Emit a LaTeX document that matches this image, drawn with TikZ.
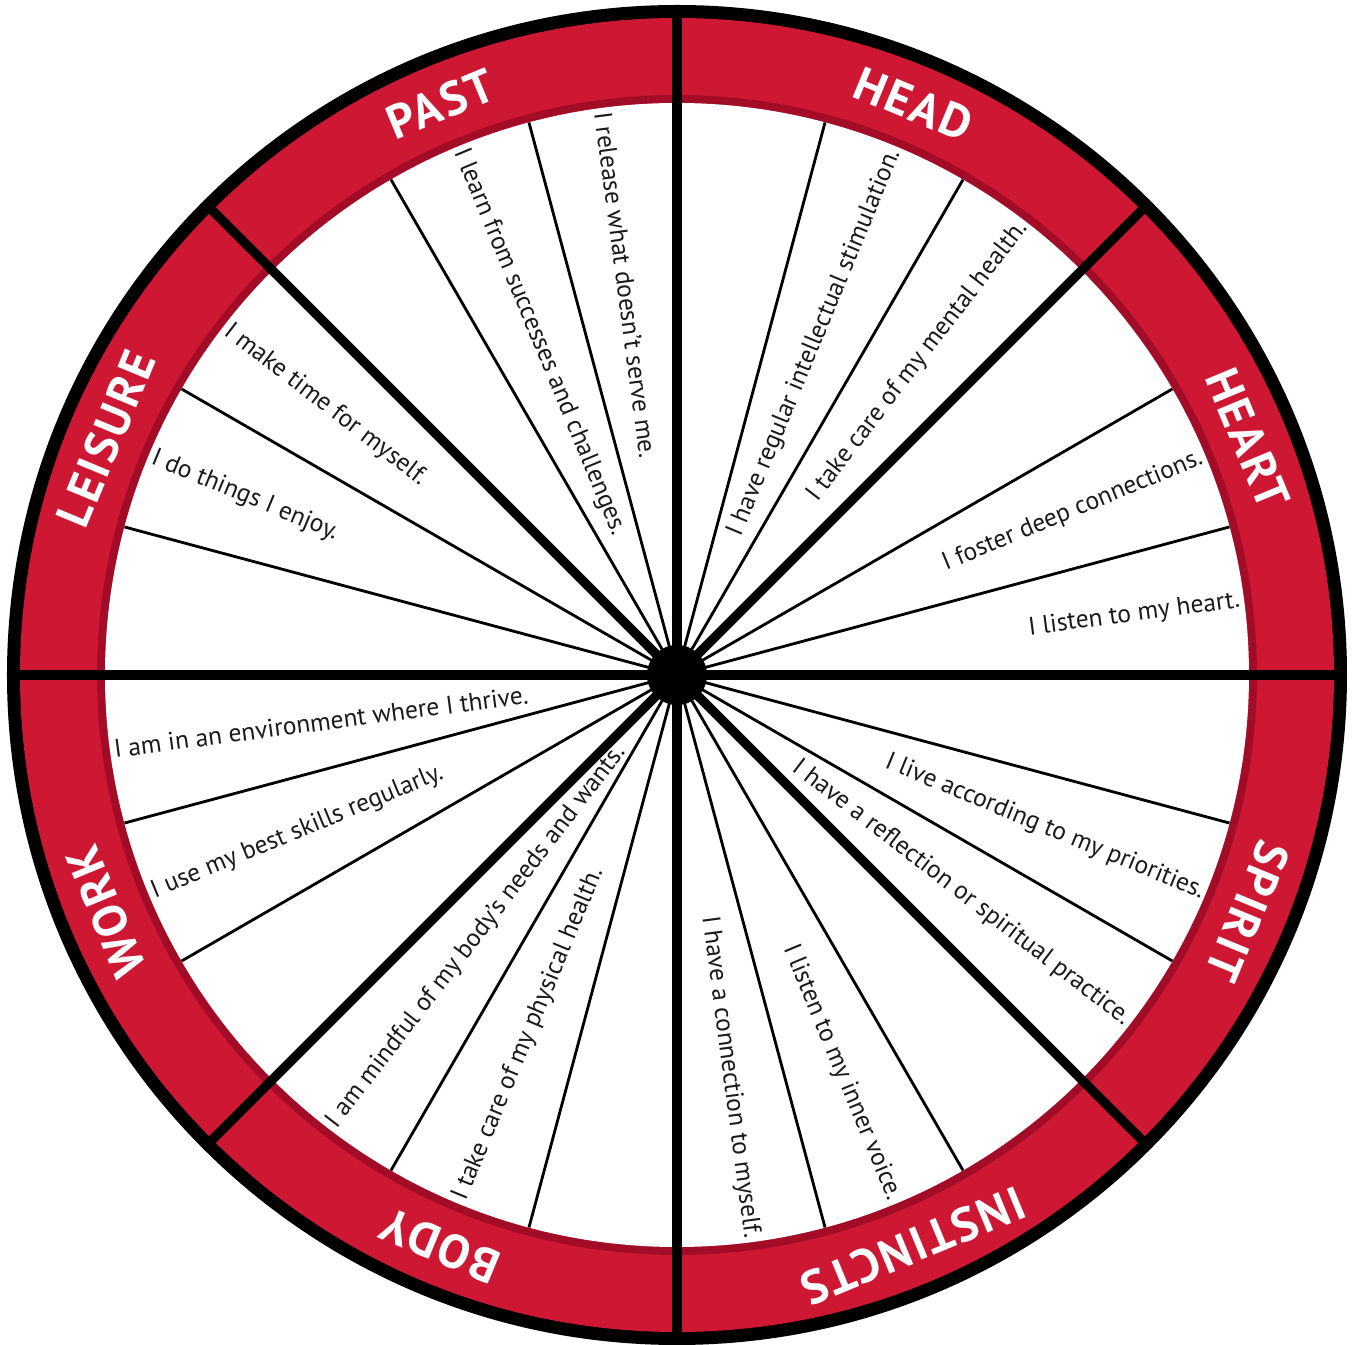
\documentclass[tikz,border=0pt]{standalone}
\usepackage{fontspec}
\setmainfont{PT Sans}
\newfontfamily\headfont{PT Sans}[LetterSpace=5]
\usepackage{tikz}
\usetikzlibrary{positioning}
\definecolor{ringF}{HTML}{CE1733}
\definecolor{ringB}{HTML}{A30C27}
\definecolor{txt}{HTML}{1A1A1A}
\tikzset{
 spoke/.style={line width=1.6pt, draw=black},
 divider/.style={line width=5.4pt, draw=black},
 outlab/.style={anchor=east, inner sep=0pt, text=txt, font=\fontsize{14.5}{16}\selectfont},
 inlab/.style={anchor=west, inner sep=0pt, text=txt, font=\fontsize{14.5}{16}\selectfont},
 head/.style={inner sep=0pt, text=white, font=\headfont\fontsize{27}{29}\selectfont\bfseries},
}

\begin{document}
\begin{tikzpicture}[x=0.02cm, y=0.02cm]
\useasboundingbox (-677,-670) rectangle (676,675);
\coordinate (c) at (0,0);
% rings
\fill[black] (c) circle [radius=670];
\fill[ringF] (c) circle [radius=657];
\fill[ringB] (c) circle [radius=580];
\fill[white] (c) circle [radius=572];
% spokes
\foreach \a in {15,30,60,75,105,120,150,165,195,210,240,255,285,300,330,345}
 \draw[spoke] (c) -- (\a:572);
\foreach \a in {0,45,...,315}
 \draw[divider] (c) -- (\a:660);
\fill[black] (c) circle [radius=30];
% headers
\foreach \a/\t/\n in {67.5/HEAD/head, 22.5/HEART/heart, -22.5/SPIRIT/spirit, -67.5/INSTINCTS/instincts,
                      -112.5/BODY/body, -157.5/WORK/work, 157.5/LEISURE/leisure, 112.5/PAST/past}
 \node[head, rotate=\a-90] (\n) at (\a:618) {\t};
% statements, right half
\node[outlab, rotate=67.5] (headA) at (67.5:568) {I have regular intellectual stimulation.};
\node[outlab, rotate=52.5] (headB) at (52.5:568) {I take care of my mental health.};
\node[outlab, rotate=22.5] (heartA) at (22.5:568) {I foster deep connections.};
\node[outlab, rotate=7.5] (heartB) at (7.5:568) {I listen to my heart.};
\node[outlab, rotate=-22.5] (spiritA) at (-22.5:570) {I live according to my priorities.};
\node[outlab, rotate=-37.5] (spiritB) at (-37.5:568) {I have a reflection or spiritual practice.};
\node[outlab, rotate=-67.5] (instA) at (-67.5:568) {I listen to my inner voice.};
\node[outlab, rotate=-82.5] (instB) at (-82.5:568) {I have a connection to myself.};
% statements, left half
\node[inlab, rotate=-82.5] (pastA) at (97.5:568) {I release what doesn’t serve me.};
\node[inlab, rotate=-67.5] (pastB) at (112.5:568) {I learn from successes and challenges.};
\node[inlab, rotate=-37.5] (leisA) at (142.5:568) {I make time for myself.};
\node[inlab, rotate=-22.5] (leisB) at (157.5:568) {I do things I enjoy.};
\node[inlab, rotate=7.5] (workA) at (187.5:568) {I am in an environment where I thrive.};
\node[inlab, rotate=22.5] (workB) at (202.5:568) {I use my best skills regularly.};
\node[inlab, rotate=52.5] (bodyA) at (232.5:568) {I am mindful of my body’s needs and wants.};
\node[inlab, rotate=67.5] (bodyB) at (247.5:568) {I take care of my physical health.};
\end{tikzpicture}
\end{document}
